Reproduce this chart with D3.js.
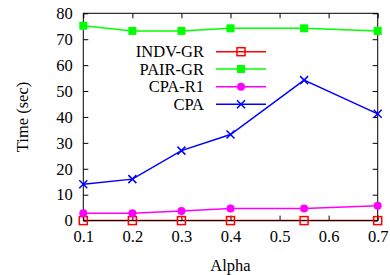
<!DOCTYPE html>
<html>
<head>
<meta charset="utf-8">
<script src="https://cdn.jsdelivr.net/npm/d3@7"></script>
<style>
  body { margin: 0; background: #fff; }
  svg text { font-family: "Liberation Serif", "Times New Roman", serif !important; }
</style>
</head>
<body>
<div id="chart"></div>
<script>
// Data
const alphas = [0.1, 0.2, 0.3, 0.4, 0.55, 0.7];
const indvGr = [0, 0, 0, 0, 0, 0];
const pairGr = [75.2, 73.2, 73.2, 74.2, 74.2, 73.2];
const cpaR1 = [2.8, 2.8, 3.7, 4.7, 4.7, 5.7];
const cpa = [14, 16, 27, 33.2, 54.2, 41.2];
const xTicks = [0.1, 0.2, 0.3, 0.4, 0.5, 0.6, 0.7];
const yTicks = [0, 10, 20, 30, 40, 50, 60, 70, 80];

const series = [
    { name: "INDV-GR", values: indvGr, color: "#ff0000", marker: "openSquare" },
    { name: "PAIR-GR", values: pairGr, color: "#00ff00", marker: "square" },
    { name: "CPA-R1", values: cpaR1, color: "#ff00ff", marker: "circle" },
    { name: "CPA", values: cpa, color: "#0000ff", marker: "cross" }
];

const W = 390, H = 275;
const margin = { top: 13.3, right: 12.3, bottom: 54.4, left: 83.3 };
const width = W - margin.left - margin.right;
const height = H - margin.top - margin.bottom;
const fontSize = 16.5;
const serif = "Liberation Serif, Times New Roman, serif";

const svg = d3.select("#chart").append("svg")
    .attr("width", W)
    .attr("height", H)
    .attr("font-family", serif);

const g = svg.append("g")
    .attr("transform", `translate(${margin.left}, ${margin.top})`);

const x = d3.scaleLinear().domain([0.1, 0.7]).range([0, width]);
const y = d3.scaleLinear().domain([0, 80]).range([height, 0]);

// Axes with inward ticks (gnuplot style), mirrored on top/right
const tickLen = 5;
g.append("g")
    .attr("transform", `translate(0, ${height})`)
    .call(d3.axisBottom(x).tickValues(xTicks).tickSizeInner(-tickLen).tickSizeOuter(0).tickPadding(10).tickFormat(d3.format(".1f")))
    .attr("font-family", serif)
    .call(a => a.select(".domain").remove())
    .selectAll("text").attr("font-size", fontSize).attr("fill", "#000");

g.append("g")
    .call(d3.axisTop(x).tickValues(xTicks).tickSizeInner(-tickLen).tickSizeOuter(0).tickFormat(""))
    .call(a => a.select(".domain").remove());

g.append("g")
    .call(d3.axisLeft(y).tickValues(yTicks).tickSizeInner(-tickLen).tickSizeOuter(0).tickPadding(10.5))
    .attr("font-family", serif)
    .call(a => a.select(".domain").remove())
    .selectAll("text").attr("font-size", fontSize).attr("fill", "#000");

g.append("g")
    .attr("transform", `translate(${width}, 0)`)
    .call(d3.axisRight(y).tickValues(yTicks).tickSizeInner(-tickLen).tickSizeOuter(0).tickFormat(""))
    .call(a => a.select(".domain").remove());

function drawMarker(sel, type, color, size) {
    const s = size / 2;
    if (type === "openSquare") {
        sel.append("rect").attr("x", -s).attr("y", -s).attr("width", size).attr("height", size)
            .attr("fill", "none").attr("stroke", color).attr("stroke-width", 1.5);
    } else if (type === "square") {
        sel.append("rect").attr("x", -s).attr("y", -s).attr("width", size).attr("height", size)
            .attr("fill", color);
    } else if (type === "circle") {
        sel.append("circle").attr("r", s).attr("fill", color);
    } else if (type === "cross") {
        sel.append("path").attr("d", `M${-s},${-s}L${s},${s}M${-s},${s}L${s},${-s}`)
            .attr("stroke", color).attr("stroke-width", 1.5).attr("fill", "none");
    }
}

const line = d3.line()
    .x((d, i) => x(alphas[i]))
    .y(d => y(d));

// Series lines
series.forEach(s => {
    g.append("path")
        .datum(s.values)
        .attr("fill", "none")
        .attr("stroke", s.color)
        .attr("stroke-width", 1.5)
        .attr("d", line);
});

// Plot border (drawn over the lines)
g.append("rect")
    .attr("width", width)
    .attr("height", height)
    .attr("fill", "none")
    .attr("stroke", "#000")
    .attr("stroke-width", 1);

// Markers
series.forEach(s => {
    s.values.forEach((v, i) => {
        const m = g.append("g").attr("transform", `translate(${x(alphas[i])}, ${y(v)})`);
        drawMarker(m, s.marker, s.color, 8);
    });
});

// Legend
const legendRowY = [51.7, 69, 86.7, 104.2];
const legend = svg.append("g");
series.forEach((s, i) => {
    const row = legend.append("g").attr("transform", `translate(0, ${legendRowY[i]})`);
    row.append("text")
        .attr("x", 204)
        .attr("dy", "0.35em")
        .attr("text-anchor", "end")
        .attr("font-size", fontSize)
        .text(s.name);
    row.append("line")
        .attr("x1", 216).attr("x2", 266)
        .attr("stroke", s.color).attr("stroke-width", 1.5);
    const m = row.append("g").attr("transform", "translate(241, 0)");
    drawMarker(m, s.marker, s.color, 8);
});

// Axis titles
svg.append("text")
    .attr("x", margin.left + width / 2)
    .attr("y", 271)
    .attr("text-anchor", "middle")
    .attr("font-size", fontSize)
    .text("Alpha");

svg.append("text")
    .attr("transform", `translate(28, ${margin.top + height / 2}) rotate(-90)`)
    .attr("text-anchor", "middle")
    .attr("font-size", fontSize)
    .text("Time (sec)");
</script>
</body>
</html>
